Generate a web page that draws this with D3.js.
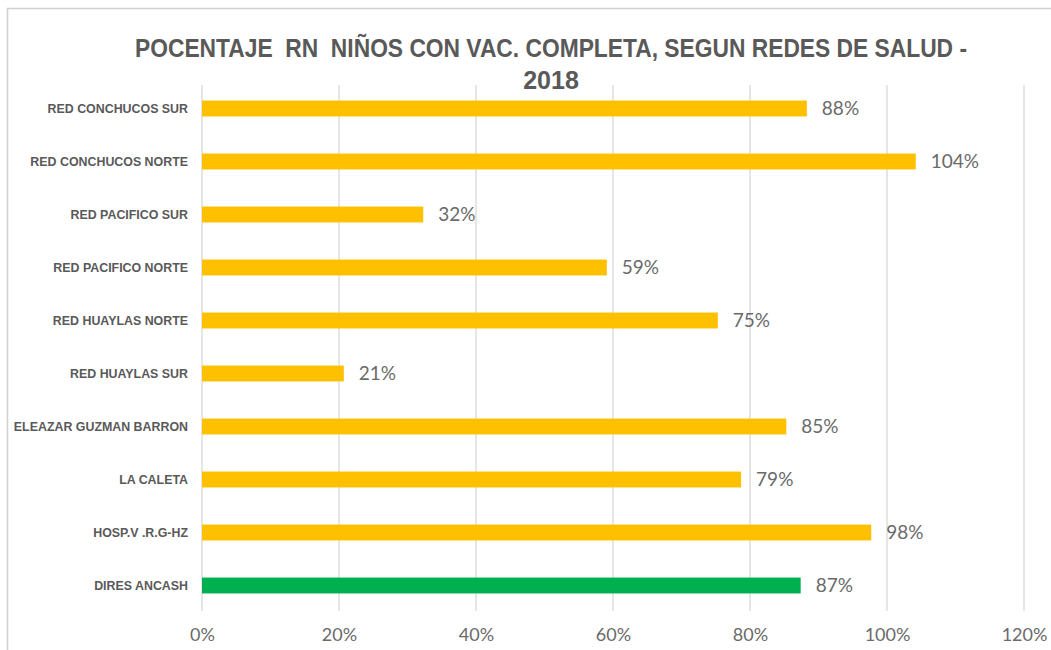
<!DOCTYPE html>
<html><head><meta charset="utf-8">
<script src="https://cdn.jsdelivr.net/npm/d3@7"></script>
<style>body{margin:0;background:#fff;} svg{display:block;}</style>
</head><body>
<svg id="c" width="1051" height="650"></svg>
<script>
const categories = ["RED CONCHUCOS SUR","RED CONCHUCOS NORTE","RED PACIFICO SUR","RED PACIFICO NORTE","RED HUAYLAS NORTE","RED HUAYLAS SUR","ELEAZAR GUZMAN BARRON","LA CALETA","HOSP.V .R.G-HZ","DIRES ANCASH"];
const values = [88.3,104.2,32.3,59.1,75.3,20.7,85.3,78.7,97.7,87.4];
const valueLabels = ["88%","104%","32%","59%","75%","21%","85%","79%","98%","87%"];
const ticks = [0,20,40,60,80,100,120];
const tickLabels = ["0%","20%","40%","60%","80%","100%","120%"];
const titleLines = ["POCENTAJE  RN  NIÑOS CON VAC. COMPLETA, SEGUN REDES DE SALUD -","2018"];

const svg = d3.select("#c");
// frame
svg.append("rect").attr("x",7.5).attr("y",8.5).attr("width",1100).attr("height",700)
  .attr("fill","none").attr("stroke","#d0d0d0").attr("stroke-width",1.5);

const x = d3.scaleLinear().domain([0,120]).range([202,1024]);
const y = d3.scaleBand().domain(categories).range([82,612]).paddingInner(0.7).paddingOuter(0.35);

// gridlines
svg.append("g").selectAll("line").data(ticks).join("line")
  .attr("x1",d=>x(d)).attr("x2",d=>x(d)).attr("y1",85).attr("y2",611)
  .attr("stroke","#d9d9d9").attr("stroke-width",1.3);

// axis
const ax = svg.append("g").attr("transform","translate(0,611)")
  .call(d3.axisBottom(x).tickValues(ticks).tickFormat((d,i)=>tickLabels[i]).tickSize(0).tickPadding(17));
ax.select(".domain").remove();
ax.selectAll("text").attr("font-family","Lato, 'Open Sans', sans-serif").attr("font-size",18).attr("fill","#6a6a6a");

// title
svg.append("g").selectAll("text").data(titleLines).join("text")
  .attr("x",551).attr("y",(d,i)=>57+i*32).attr("text-anchor","middle")
  .style("white-space","pre")
  .attr("font-family","'Liberation Sans Narrow', 'Liberation Sans', sans-serif")
  .attr("font-weight","bold").attr("font-size",25).attr("fill","#595959")
  .attr("textLength",(d,i)=>i===0?832:null).attr("lengthAdjust","spacingAndGlyphs")
  .text(d=>d);

// bars
svg.append("g").selectAll("rect").data(categories).join("rect")
  .attr("x",x(0)).attr("y",d=>y(d)).attr("height",y.bandwidth())
  .attr("width",(d,i)=>x(values[i])-x(0))
  .attr("fill",(d,i)=>d==="DIRES ANCASH"?"#00B050":"#FFC000");

// category labels
svg.append("g").selectAll("text").data(categories).join("text")
  .attr("x",188).attr("y",d=>y(d)+y.bandwidth()/2).attr("dy","0.35em")
  .attr("text-anchor","end")
  .attr("font-family","'Liberation Sans Narrow', 'Liberation Sans', sans-serif")
  .attr("font-weight","bold").attr("font-size",12.4).attr("fill","#595959")
  .text(d=>d);

// value labels
svg.append("g").selectAll("text").data(categories).join("text")
  .attr("x",(d,i)=>x(values[i])+15).attr("y",d=>y(d)+y.bandwidth()/2).attr("dy","0.36em")
  .attr("font-family","Lato, 'Open Sans', sans-serif").attr("font-size",19).attr("fill","#6a6a6a")
  .text((d,i)=>valueLabels[i]);
</script>
</body></html>
